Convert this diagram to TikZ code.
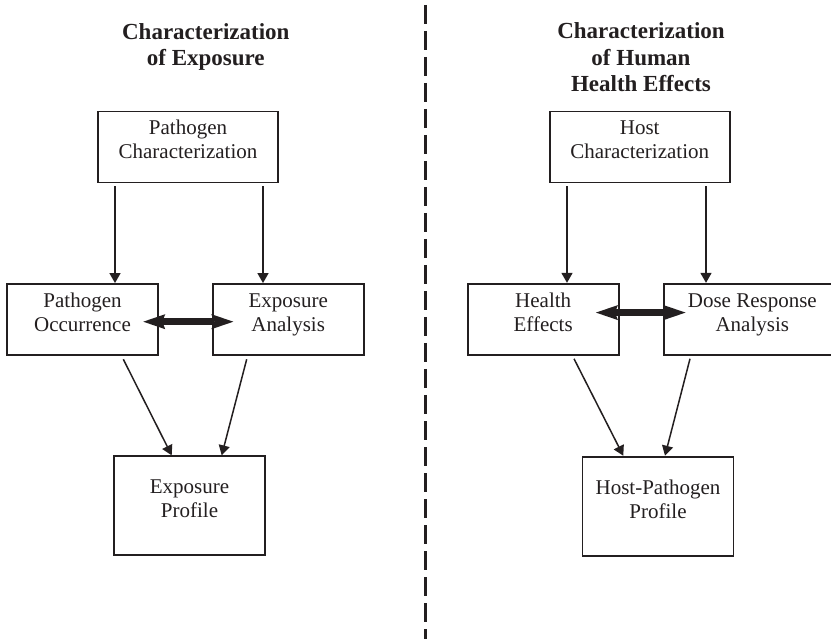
\documentclass[tikz,border=0pt]{standalone}
\usepackage{fontspec}
\setmainfont{Liberation Serif}
\usetikzlibrary{arrows.meta,calc}
\definecolor{ink}{RGB}{35,31,32}
\begin{document}
\begin{tikzpicture}[x=1pt,y=-1pt,
  box/.style={draw=ink, text=ink, line width=1.9pt, inner sep=0pt, align=center,
    font=\fontsize{21}{24}\selectfont, text height=36pt, text depth=12pt,
    minimum height=71pt},
  ttl/.style={text=ink, inner sep=0pt, anchor=base, align=center,
    font=\bfseries\fontsize{23}{26.5}\selectfont},
  arr/.style={draw=ink, line width=1.5pt, -{Triangle[length=10pt,width=11pt]}},
  dbl/.style={draw=ink, line width=6.5pt,
    {Stealth[length=22pt,width=15pt,inset=3pt,line width=0pt]}-{Stealth[length=22pt,width=15pt,inset=3pt,line width=0pt]}},
  divider/.style={draw=ink, line width=2.5pt, dash pattern=on 19pt off 7pt}
]
\useasboundingbox (0,0) rectangle (831,639);
\clip (0,0) rectangle (831,639);

% titles
\node[ttl] (t1) at (205.8,65.7) {Characterization\\of Exposure};
\node[ttl] (t2) at (641,91.7) {Characterization\\of Human\\Health Effects};

% divider
\coordinate (dtop) at (425.5,5);
\coordinate (dbot) at (425.5,639);
\draw[divider] (dtop) -- (dbot);

% left boxes
\node[box, minimum width=180pt] (PC) at (188,147) {Pathogen\\Characterization};
\node[box, minimum width=151pt] (PO) at (82.5,319.5) {Pathogen\\Occurrence};
\node[box, minimum width=151pt] (EA) at (288.2,319.5) {Exposure\\Analysis};
\node[box, minimum width=151pt, minimum height=99pt] (EP) at (189.5,505.8) {Exposure\\Profile};

% right boxes
\node[box, minimum width=180pt] (HC) at (639.7,147) {Host\\Characterization};
\node[box, minimum width=151pt] (HE) at (543.2,319.3) {Health\\Effects};
\node[box, minimum width=176pt] (DRA) at (752.3,319.3) {Dose Response\\Analysis};
\node[box, minimum width=151pt, minimum height=99pt] (HPP) at (658,506.2) {Host-Pathogen\\Profile};

% left arrows
\coordinate (pc1) at ($(PC.south)+(-73,3)$);
\coordinate (pc2) at ($(PC.south)+(75,3)$);
\draw[arr] (pc1) -- (pc1 |- PO.north);
\draw[arr] (pc2) -- (pc2 |- EA.north);
\draw[arr] ($(PO.south)+(40.8,3.3)$) -- ($(EP.north)+(-17.8,0)$);
\draw[arr] ($(EA.south)+(-41.5,3.3)$) -- ($(EP.north)+(32.2,0)$);
\draw[dbl] ($(PO.east)+(-15.7,2.2)$) -- ($(EA.west)+(21.6,2.2)$);

% right arrows
\coordinate (hc1) at ($(HC.south)+(-72.7,3)$);
\coordinate (hc2) at ($(HC.south)+(66.3,3)$);
\draw[arr] (hc1) -- (hc1 |- HE.north);
\draw[arr] (hc2) -- (hc2 |- DRA.north);
\draw[arr] ($(HE.south)+(30.8,3)$) -- ($(HPP.north)+(-34.7,0)$);
\draw[arr] ($(DRA.south)+(-62.3,3)$) -- ($(HPP.north)+(7,0)$);
\draw[dbl] ($(HE.east)+(-23.7,-6.7)$) -- ($(DRA.west)+(22.2,-6.7)$);
\end{tikzpicture}
\end{document}
